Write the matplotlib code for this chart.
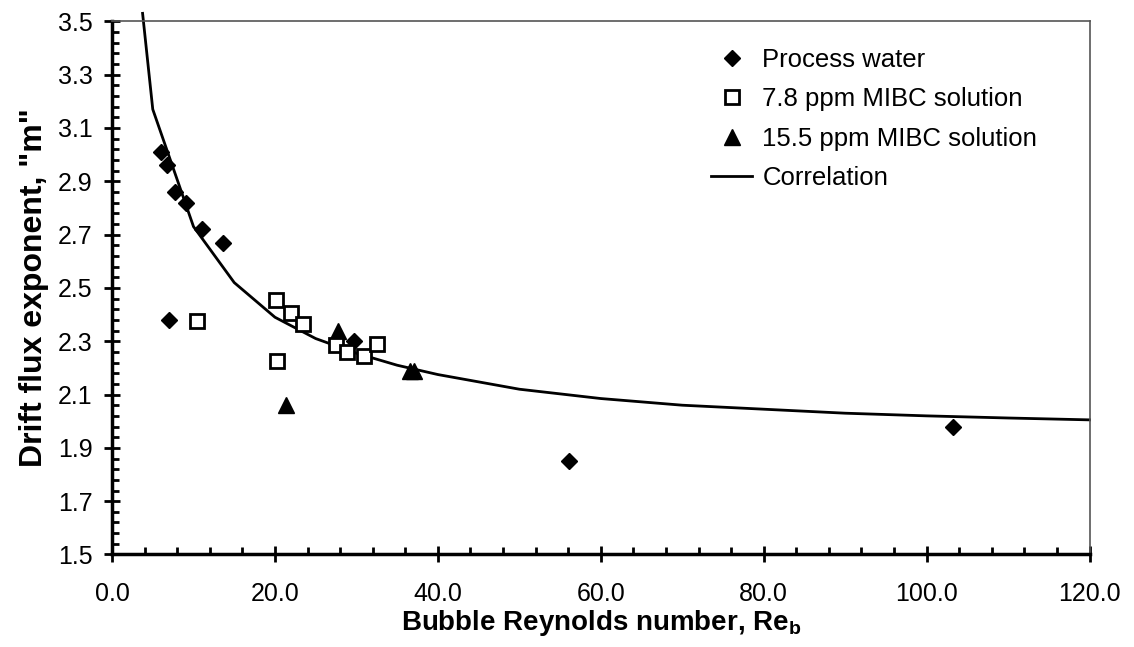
import matplotlib as mpl
mpl.use('Agg')
import numpy as np
import matplotlib.pyplot as plt
from matplotlib.ticker import FixedLocator, MultipleLocator, FormatStrFormatter

mpl.rcParams['font.family'] = ['Liberation Sans', 'DejaVu Sans']
mpl.rcParams['mathtext.fontset'] = 'custom'
mpl.rcParams['mathtext.bf'] = 'Liberation Sans:bold'
mpl.rcParams['mathtext.rm'] = 'Liberation Sans'

# process water
water_re = [6.0, 6.8, 7.75, 9.1, 11.0, 13.6, 7.05, 29.7, 56.1, 103.2]
water_m = [3.01, 2.96, 2.86, 2.82, 2.72, 2.67, 2.38, 2.30, 1.85, 1.98]

# 7.8 ppm MIBC
mibc78_re = [10.4, 20.1, 22.0, 23.4, 20.2, 27.5, 28.9, 30.9, 32.5]
mibc78_m = [2.375, 2.455, 2.405, 2.365, 2.225, 2.285, 2.26, 2.245, 2.29]

# 15.5 ppm MIBC
mibc155_re = [21.3, 27.7, 36.6, 37.1]
mibc155_m = [2.06, 2.34, 2.19, 2.19]

# correlation line
corr_re = [3.75, 5, 10, 15, 20, 25, 30, 35, 40, 50, 60, 70, 80, 90, 100, 110, 120]
corr_m = [3.53, 3.17, 2.73, 2.52, 2.39, 2.31, 2.255, 2.21, 2.175, 2.12,
          2.085, 2.06, 2.045, 2.03, 2.02, 2.012, 2.005]

y_major = [1.5, 1.7, 1.9, 2.1, 2.3, 2.5, 2.7, 2.9, 3.1, 3.3, 3.5]

fig = plt.figure(figsize=(11.34, 6.47), dpi=100)
ax = fig.add_axes([0.0988, 0.143, 0.862, 0.824])

ax.plot(corr_re, corr_m, color='black', lw=2, zorder=2, clip_on=False,
        label='Correlation')
ax.plot(water_re, water_m, 'D', color='black', ms=8.5, ls='none', zorder=3,
        label='Process water')
ax.plot(mibc155_re, mibc155_m, '^', color='black', ms=12, ls='none', zorder=4,
        label='15.5 ppm MIBC solution')
ax.plot(mibc78_re, mibc78_m, 's', mfc='white', mec='black', mew=2, ms=10,
        ls='none', zorder=5, label='7.8 ppm MIBC solution')

ax.set_xlim(0, 120)
ax.set_ylim(1.5, 3.5)

ax.xaxis.set_major_locator(MultipleLocator(20))
ax.xaxis.set_minor_locator(MultipleLocator(4))
ax.yaxis.set_major_locator(FixedLocator(y_major))
ax.yaxis.set_minor_locator(FixedLocator(np.arange(1.5, 3.5001, 0.04)))
ax.xaxis.set_major_formatter(FormatStrFormatter('%.1f'))
ax.yaxis.set_major_formatter(FormatStrFormatter('%.1f'))

ax.tick_params(which='major', direction='inout', length=12, width=2,
               labelsize=18, color='black')
ax.tick_params(which='minor', direction='in', length=5, width=2)
ax.tick_params(axis='x', which='major', pad=14)
ax.tick_params(axis='y', which='major', pad=8)

for s in ['left', 'bottom']:
    ax.spines[s].set_linewidth(2.5)
    ax.spines[s].set_color('black')
for s in ['top', 'right']:
    ax.spines[s].set_linewidth(1.2)
    ax.spines[s].set_color('#555555')

ax.set_xlabel(r'Bubble Reynolds number, Re$_\mathbf{b}$', fontsize=20,
              fontweight='bold', labelpad=1)
ax.set_ylabel('Drift flux exponent, "m"', fontsize=23, fontweight='bold',
              labelpad=6)

h, l = ax.get_legend_handles_labels()
order = [1, 3, 2, 0]
ax.legend([h[i] for i in order], [l[i] for i in order], loc='upper left',
          bbox_to_anchor=(0.618, 0.942), bbox_transform=fig.transFigure,
          frameon=False, fontsize=18.5, handlelength=1.6, handletextpad=0.4,
          labelspacing=0.6, borderaxespad=0)

fig.savefig('out.png', dpi=100)
